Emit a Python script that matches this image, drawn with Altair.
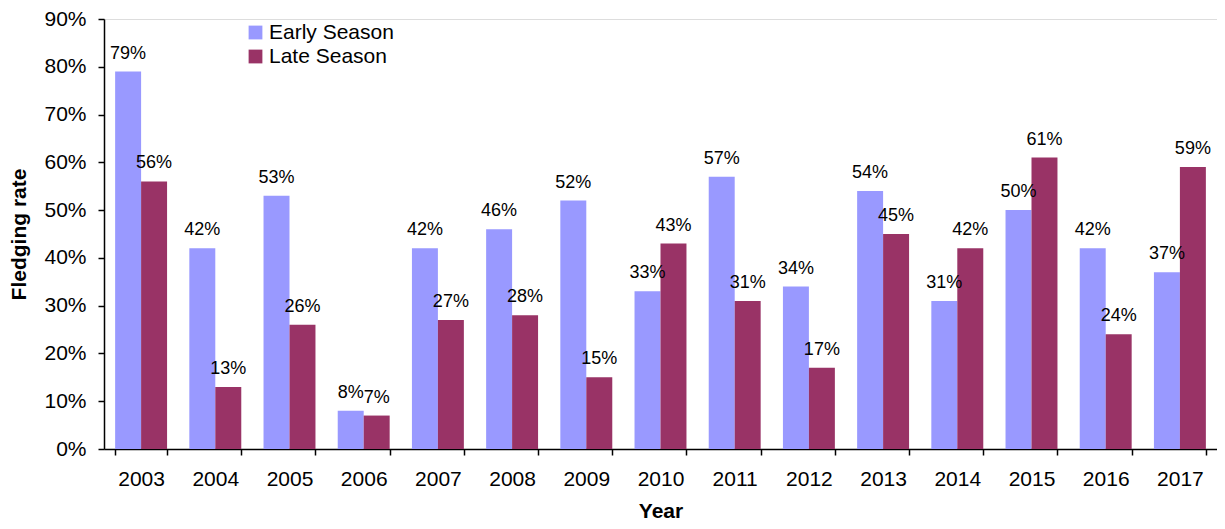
import altair as alt
import pandas as pd

years = ["2003", "2004", "2005", "2006", "2007", "2008", "2009", "2010",
         "2011", "2012", "2013", "2014", "2015", "2016", "2017"]
early = [79, 42, 53, 8, 42, 46, 52, 33, 57, 34, 54, 31, 50, 42, 37]
late = [56, 13, 26, 7, 27, 28, 15, 43, 31, 17, 45, 42, 61, 24, 59]
series = ["Early Season", "Late Season"]
colors = ["#9999FF", "#993366"]

rows = []
for i, y in enumerate(years):
    rows.append({"Year": y, "Season": series[0], "Rate": early[i], "Label": f"{early[i]}%"})
    rows.append({"Year": y, "Season": series[1], "Rate": late[i], "Label": f"{late[i]}%"})
df = pd.DataFrame(rows)

FONT = "Liberation Sans"

x_enc = alt.X(
    "Year:N",
    sort=years,
    scale=alt.Scale(paddingInner=0.3, paddingOuter=0.15),
    axis=alt.Axis(
        title="Year", titleFontWeight="bold", titleFontSize=21, titleFont=FONT,
        titlePadding=11, labelAngle=0, labelFontSize=21, labelFont=FONT,
        labelColor="black", labelPadding=13, tickBand="extent", tickSize=6,
        tickColor="black", domainColor="black", domainWidth=1.5, tickWidth=1.5,
        grid=False,
    ),
)
xo_enc = alt.XOffset("Season:N", sort=series, scale=alt.Scale(paddingInner=0, paddingOuter=0))
y_enc = alt.Y(
    "Rate:Q",
    scale=alt.Scale(domain=[0, 90], nice=False),
    axis=alt.Axis(
        title="Fledging rate", titleFontWeight="bold", titleFontSize=21, titleFont=FONT,
        titlePadding=14, values=list(range(0, 91, 10)), labelExpr="datum.value + '%'",
        labelFontSize=21, labelFont=FONT, labelColor="black", labelPadding=12,
        tickSize=6, tickColor="black", domainColor="black", domainWidth=1.5,
        tickWidth=1.5, grid=False,
    ),
)

bars = alt.Chart(df).mark_bar().encode(
    x=x_enc,
    xOffset=xo_enc,
    y=y_enc,
    color=alt.Color(
        "Season:N",
        sort=series,
        scale=alt.Scale(domain=series, range=colors),
        legend=alt.Legend(
            title=None, orient="none", legendX=141, legendY=3,
            symbolType="square", symbolSize=190, symbolStrokeWidth=0,
            labelFontSize=21, labelFont=FONT, labelColor="black",
            rowPadding=2, labelOffset=3,
        ),
    ),
)

labels = alt.Chart(df).mark_text(
    dy=-13, baseline="alphabetic", fontSize=18, font=FONT, color="black"
).encode(
    x=alt.X("Year:N", sort=years),
    xOffset=alt.XOffset("Season:N", sort=series),
    y=alt.Y("Rate:Q"),
    text="Label:N",
)

chart = (
    alt.layer(bars, labels)
    .properties(
        width=1209, height=513,
        autosize=alt.AutoSizeParams(type="fit", contains="padding"),
        padding={"left": 0, "top": 0, "right": 0, "bottom": 0},
    )
    .configure_view(stroke=None)
    .configure(background="white")
)

chart.save("out.html", embed_options={"renderer": "svg", "actions": False})
